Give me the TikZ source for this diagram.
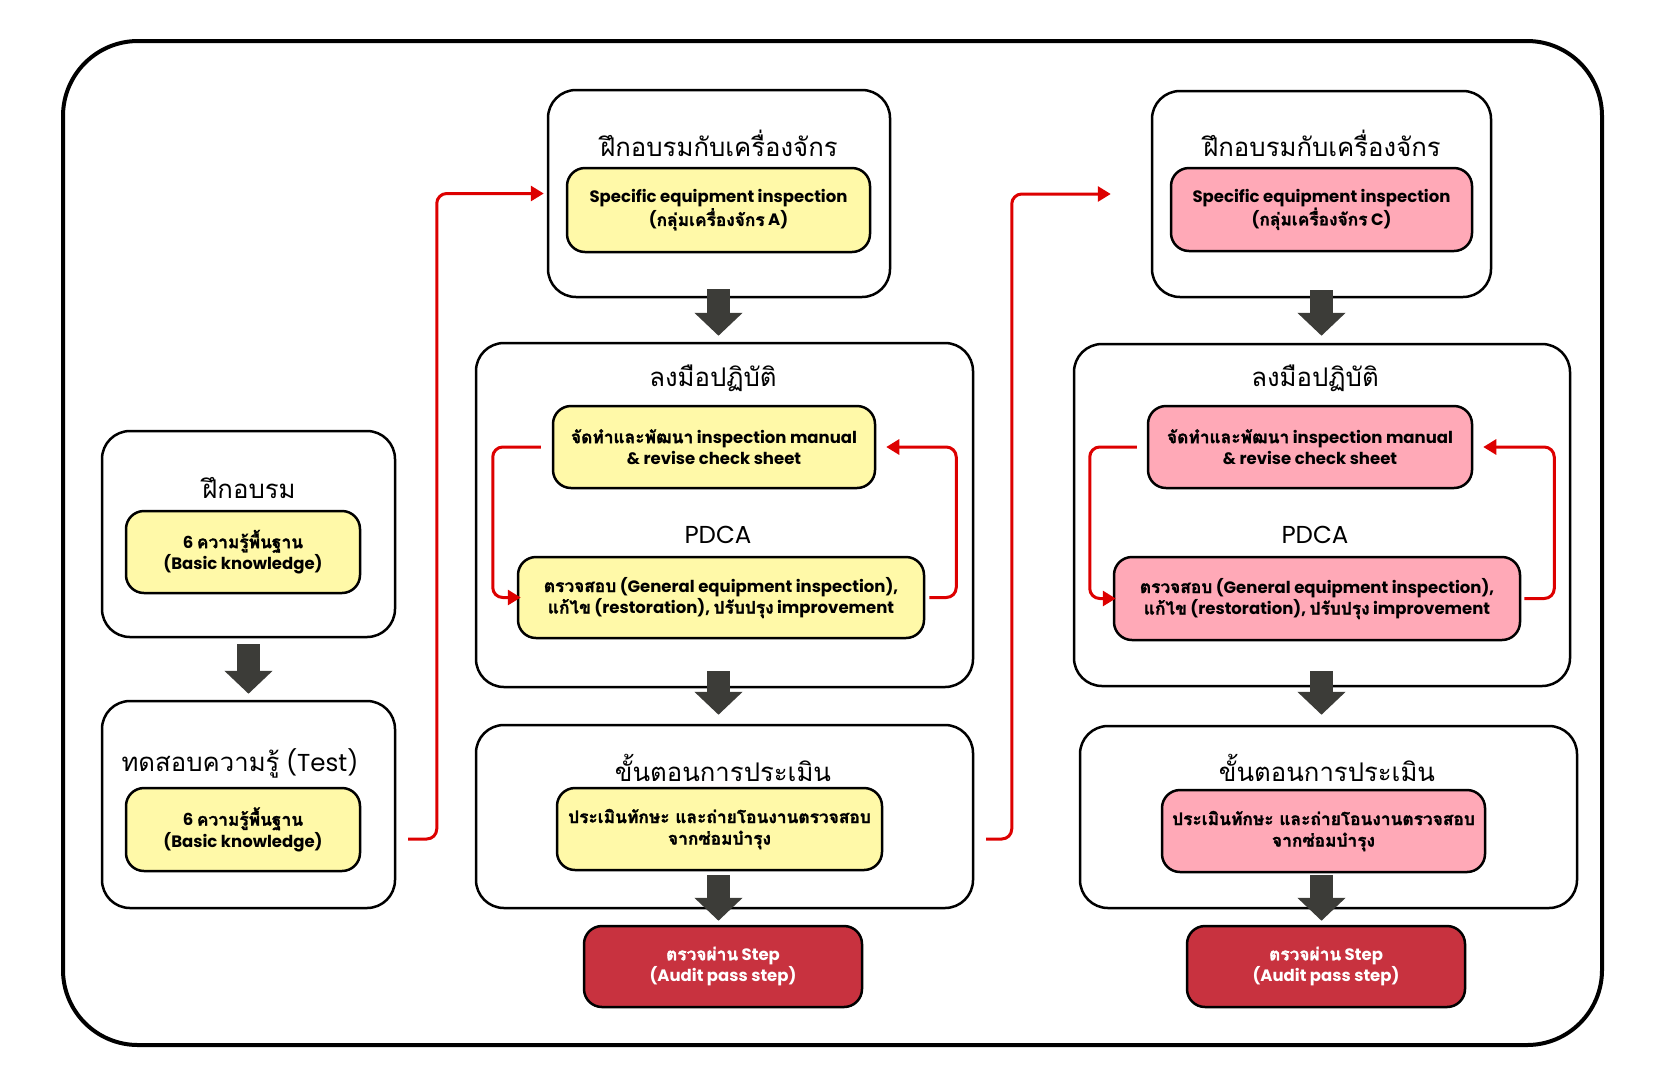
\documentclass[tikz,border=0pt]{standalone}
\usepackage{fontspec}
\setmainfont{Poppins}
\newfontfamily\thaifont[Script=Thai,Scale=1.05,BoldFeatures={FakeBold=1.5}]{Loma}
\usetikzlibrary{arrows.meta,positioning}
\definecolor{fyellow}{HTML}{FFF9A8}
\definecolor{fpink}{HTML}{FFA9B7}
\definecolor{faudit}{HTML}{C8323F}
\definecolor{fdark}{HTML}{3C3C38}
\definecolor{fred}{HTML}{DD0000}
\newcommand{\tht}[1]{{\thaifont #1}}
\tikzset{
  stage/.style   = {draw, line width=2.5pt, rounded corners=28pt, inner sep=0pt},
  ttl/.style     = {font=\fontsize{24.5}{29}\selectfont},
  itembox/.style = {draw, line width=2.5pt, rounded corners=18pt, align=center,
                    inner sep=0pt, font=\bfseries\fontsize{16.5}{21.5}\selectfont},
  ylw/.style     = {itembox, fill=fyellow},
  pnk/.style     = {itembox, fill=fpink},
  audit/.style   = {itembox, fill=faudit, text=white},
  bigarrow/.style= {fdark, line width=23pt, -{Triangle[width=47pt,length=23pt]}},
  redline/.style = {fred, line width=3pt, rounded corners=10pt,
                    -{Triangle[width=15pt,length=13pt]}},
}

\begin{document}
\begin{tikzpicture}[x=1pt,y=-1pt]
\useasboundingbox (0,0) rectangle (1680,1080);
\draw[line width=4pt, rounded corners=75pt] (63,41) rectangle (1602,1045);
% ---- left column: basic training ----
\node[stage, minimum width=293pt, minimum height=206pt] (train) at (248.5,534) {};
\node[ttl] (train-t) at (249,488) {\tht{ฝึกอบรม}};
\node[ylw, minimum width=234pt, minimum height=82pt] (know1) at (243,552)
  {6 \tht{ความรู้พื้นฐาน}\\(Basic knowledge)};
\node[stage, minimum width=293pt, minimum height=207pt] (test) at (248.5,804.5) {};
\node[ttl] (test-t) at (240,763) {\tht{ทดสอบความรู้} (Test)};
\node[ylw, minimum width=234pt, minimum height=83pt] (know2) at (243,829.5)
  {6 \tht{ความรู้พื้นฐาน}\\(Basic knowledge)};
\draw[bigarrow] ([yshift=-6pt]train.south) -- ([yshift=6pt]test.north -| train.south);
% ---- middle column: group A ----
\node[stage, minimum width=342pt, minimum height=207pt] (mtrain) at (719,193.5) {};
\node[ttl] (mtrain-t) at (719,143) {\tht{ฝึกอบรมกับเครื่องจักร}};
\node[ylw, minimum width=303pt, minimum height=84pt] (mspec) at (718.5,210)
  {Specific equipment inspection\\(\tht{กลุ่มเครื่องจักร} A)};
\node[stage, minimum width=497pt, minimum height=344pt] (mpract) at (724.5,515) {};
\node[ttl] (mpract-t) at (713,378) {\tht{ลงมือปฏิบัติ}};
\node[ylw, minimum width=322pt, minimum height=82pt] (mman) at (714,447)
  {\tht{จัดทำและพัฒนา} inspection manual\\\& revise check sheet};
\node[ttl] (mpdca) at (718,535) {PDCA};
\node[ylw, minimum width=406pt, minimum height=81pt] (mgen) at (721,597.5)
  {\tht{ตรวจสอบ} (General equipment inspection),\\\tht{แก้ไข} (restoration), \tht{ปรับปรุง} improvement};
\node[stage, minimum width=497pt, minimum height=183pt] (meval) at (724.5,816.5) {};
\node[ttl] (meval-t) at (723,768) {\tht{ขั้นตอนการประเมิน}};
\node[ylw, minimum width=325pt, minimum height=82pt] (mskill) at (719.5,829)
  {\tht{ประเมินทักษะ และถ่ายโอนงานตรวจสอบ}\\\tht{จากซ่อมบำรุง}};
\node[audit, minimum width=278pt, minimum height=81pt] (maudit) at (723,966.5)
  {\tht{ตรวจผ่าน} Step\\(Audit pass step)};
\draw[bigarrow] ([yshift=9pt]mtrain.south -| mspec) -- ([yshift=6pt]mpract.north -| mspec);
\draw[bigarrow] ([yshift=17pt]mpract.south -| mspec) -- ([yshift=9pt]meval.north -| mspec);
\draw[bigarrow] ([yshift=-4pt]mskill.south -| mspec) -- ([yshift=4pt]maudit.north -| mspec);
\draw[redline] ([xshift=-11pt]mman.west) -| ([xshift=-24pt]mgen.west) -- ([xshift=4pt]mgen.west);
\draw[redline] ([xshift=4pt]mgen.east) -| ([xshift=80pt]mman.east) -- ([xshift=10pt]mman.east);
% ---- right column: group C ----
\node[stage, minimum width=339pt, minimum height=206pt] (rtrain) at (1321.5,194) {};
\node[ttl] (rtrain-t) at (1322,143) {\tht{ฝึกอบรมกับเครื่องจักร}};
\node[pnk, minimum width=301pt, minimum height=83pt] (rspec) at (1321.5,209.5)
  {Specific equipment inspection\\(\tht{กลุ่มเครื่องจักร} C)};
\node[stage, minimum width=496pt, minimum height=342pt] (rpract) at (1322,515) {};
\node[ttl] (rpract-t) at (1315,378) {\tht{ลงมือปฏิบัติ}};
\node[pnk, minimum width=324pt, minimum height=82pt] (rman) at (1310,447)
  {\tht{จัดทำและพัฒนา} inspection manual\\\& revise check sheet};
\node[ttl] (rpdca) at (1315,535) {PDCA};
\node[pnk, minimum width=406pt, minimum height=83pt] (rgen) at (1317,598.5)
  {\tht{ตรวจสอบ} (General equipment inspection),\\\tht{แก้ไข} (restoration), \tht{ปรับปรุง} improvement};
\node[stage, minimum width=497pt, minimum height=182pt] (reval) at (1328.5,817) {};
\node[ttl] (reval-t) at (1327,768) {\tht{ขั้นตอนการประเมิน}};
\node[pnk, minimum width=323pt, minimum height=82pt] (rskill) at (1323.5,831)
  {\tht{ประเมินทักษะ และถ่ายโอนงานตรวจสอบ}\\\tht{จากซ่อมบำรุง}};
\node[audit, minimum width=278pt, minimum height=81pt] (raudit) at (1326,966.5)
  {\tht{ตรวจผ่าน} Step\\(Audit pass step)};
\draw[bigarrow] ([yshift=8pt]rtrain.south -| rspec) -- ([yshift=7pt]rpract.north -| rspec);
\draw[bigarrow] ([yshift=16pt]rpract.south -| rspec) -- ([yshift=10pt]reval.north -| rspec);
\draw[bigarrow] ([yshift=-2pt]rskill.south -| rspec) -- ([yshift=4pt]raudit.north -| rspec);
\draw[redline] ([xshift=-10pt]rman.west) -| ([xshift=-23pt]rgen.west) -- ([xshift=3pt]rgen.west);
\draw[redline] ([xshift=3pt]rgen.east) -| ([xshift=81pt]rman.east) -- ([xshift=10pt]rman.east);
% ---- links between columns ----
\coordinate (l1) at (408,839);
\coordinate (l2) at (986,839);
\draw[redline] (l1) -| ([xshift=-110pt]mtrain.west) -- ([xshift=-3pt]mtrain.west);
\draw[redline] (l2) -| ([xshift=-139pt]rtrain.west) -- ([xshift=-40pt]rtrain.west);
\end{tikzpicture}
\end{document}
